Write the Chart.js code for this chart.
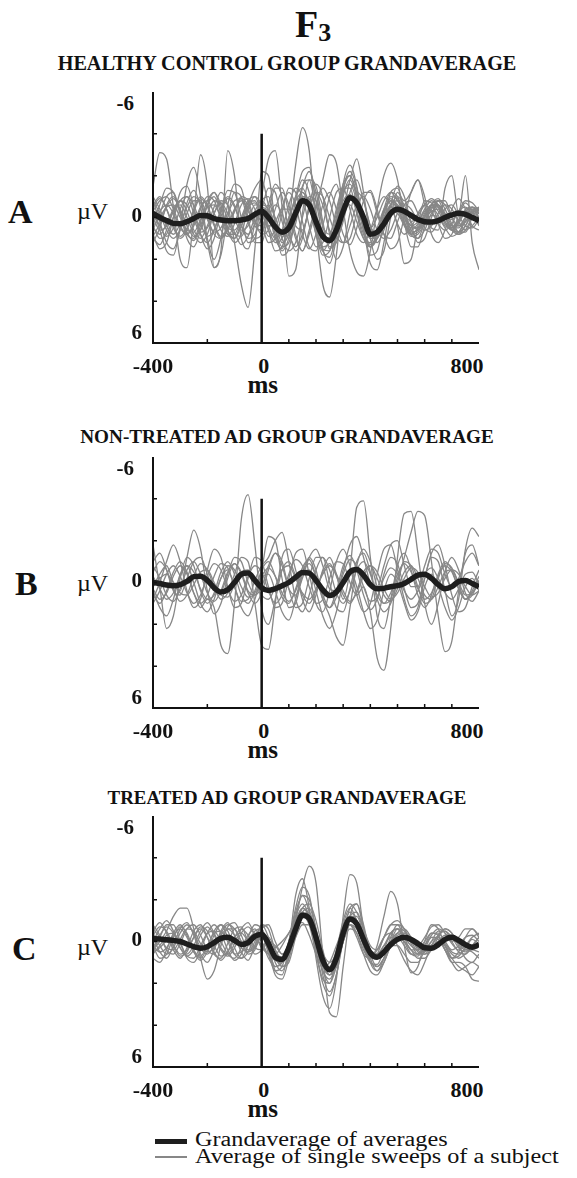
<!DOCTYPE html>
<html>
<head>
<meta charset="utf-8">
<script src="https://cdn.jsdelivr.net/npm/chart.js@4.4.0/dist/chart.umd.min.js"></script>
<style>
  body { margin: 0; width: 577px; height: 1178px; position: relative; overflow: hidden; background: #fff;
         font-family: "Liberation Serif", "Times New Roman", serif; color: #111; }
  .t { position: absolute; white-space: nowrap; line-height: 1; }
  canvas { position: absolute; }
  .key { position: absolute; }
</style>
</head>
<body>
<script>
// sample times (ms)
const times = [-400,-375,-350,-325,-300,-275,-250,-225,-200,-175,-150,-125,-100,-75,-50,-25,
  0,25,50,75,100,125,150,175,200,225,250,275,300,325,350,375,400,425,450,475,
  500,525,550,575,600,625,650,675,700,725,750,775,800];

const yTickLabels = [-6, 0, 6];
const xTickLabels = [-400, 0, 800];
const yTickMarks = [-4, -2, 0, 2, 4];
const xTickMarks = [-200, 100, 200, 300, 400, 500, 600, 700];

// µV, negative up
const healthyGrand = [-0.2,0.0,0.15,0.28, 0.3,0.2,0.05,-0.1, -0.08,0.05,0.12,0.15, 0.15,0.12,0.05,-0.15,
  -0.3,0.0,0.45,0.7, 0.5,-0.2,-0.8,-0.6, 0.2,0.9,1.1,0.6, -0.3,-0.95,-0.7,0.0, 0.8,0.7,0.3,-0.2,
  -0.4,-0.3,-0.1,0.1, 0.2,0.22,0.15,0.0, -0.12,-0.2,-0.15,0.0, 0.15];

const healthySubjects = [
  [-1.5,-3.1,-2.8,-0.5, 2.0,2.4,0.0,-3.0, -1.5,2.4,1.6,-3.2, -2.0,1.0,1.5,0.3, -0.8,-1.0,0.2,1.2, 0.8,-0.8,-1.8,-1.2, 0.4,1.5,1.6,0.2, -1.2,-1.6,-0.8,0.6, 1.4,1.0,-0.2,-1.0, -0.9,0.0,0.7,0.6, -0.1,-0.6,-0.5,0.2, 0.6,0.3,-0.3,-0.4, 0.1],
  [0.5,0.8,0.3,-0.4, -0.8,-0.3,0.6,1.0, 0.4,-0.5,-1.2,-0.6, 1.2,3.2,4.3,1.5, -2.2,-2.0,0.3,1.8, 1.5,0.0,-1.5,-1.8, -0.3,1.5,2.2,1.0, -1.0,-1.8,-1.0,0.5, 1.3,0.8,-0.3,-0.9, -0.5,0.3,0.8,0.5, -0.2,-0.6,-0.3,0.3, 0.6,0.2,-0.4,-0.5, 0.0],
  [-0.3,0.4,0.9,0.5, -0.4,-1.0,-0.6,0.3, 0.9,0.6,-0.3,-0.9, -0.5,0.4,0.8,0.3, -0.5,-0.2,1.0,1.5, 0.2,-2.5,-4.3,-3.2, 0.5,3.2,3.8,1.8, -1.2,-2.2,-1.4,0.4, 1.8,1.6,0.2,-1.2, -1.4,-0.3,0.8,1.0, 0.2,-0.6,-0.8,-0.1, 0.6,0.7,0.1,-0.5, -0.4],
  [0.8,1.5,1.2,0.0, -1.2,-1.5,-0.5,0.8, 1.5,1.0,-0.3,-1.3, -1.2,0.0,1.2,1.0, -1.0,-2.8,-3.2,-0.5, 2.8,2.5,-0.2,-1.8, -1.5,0.2,1.5,0.8, -1.6,-2.5,-1.5,0.5, 2.2,2.5,1.2,-0.6, -1.5,-1.0,0.3,1.2, 1.0,0.0,-0.8,-0.8, 0.0,0.7,0.7,0.0, -0.5],
  [-0.6,-1.0,-0.4,0.5, 1.0,0.6,-0.4,-1.0, -0.6,0.3,0.9,0.6, -0.3,-1.0,-0.8,0.2, 0.8,0.6,-0.4,-1.2, -0.6,0.8,1.6,0.8, -0.4,-1.8,-3.0,-2.6, -0.4,1.6,2.6,2.8, 1.6,-0.4,-2.0,-2.6, -1.8,0.2,1.4,1.4, 0.4,-0.6,-0.9,-0.4, 0.3,0.7,0.4,-0.2, -0.4],
  [1.2,0.5,-0.6,-1.0, -0.3,0.7,1.1,0.4, -0.6,-1.0,-0.2,0.8, 1.0,0.2,-0.7,-0.8, 0.0,0.9,0.6,-0.5, -1.2,-0.6,0.8,1.5, 0.8,-0.6,-1.2,-0.4, 0.8,1.3,0.5,-0.8, -1.3,-0.4,0.8,1.5, 1.2,0.0,-1.2,-1.8, -1.0,0.5,0.6,-1.4, -2.0,-0.2,-2.0,1.2, 2.5],
  [0.3,-0.3,-0.6,-0.2, 0.5,0.8,0.3,-0.5, -0.8,-0.2,0.6,0.9, 0.3,-0.6,-0.9,-0.4, 0.3,1.2,1.0,-0.2, -1.4,-1.2,0.2,1.4, 1.6,0.4,-1.0,-1.6, -0.6,-1.8,-2.8,-1.2, 1.0,2.0,1.6,0.0, -1.2,-0.8,-1.2,-1.8, -0.6,0.8,1.2,0.6, -0.4,-0.9,-0.4,0.4, 0.6],
  [-0.8,0.2,1.2,1.5, 0.6,-0.7,-1.3,-0.5, 1.2,2.4,1.8,0.0, -1.2,-1.0,0.2,1.0, 0.8,-0.6,-1.6,-1.0, 0.6,1.6,1.0,-0.6, -1.6,-1.0,0.8,2.0, 1.4,-0.2,-1.2,-0.8, 0.4,1.2,0.6,-0.4, 0.4,2.2,2.0,0.4, -0.8,-0.7,0.3,1.0, 0.8,-0.1,-0.7,-0.3, 0.4],
  [0.4,0.0,-0.5,-0.6, 0.0,0.6,0.7,0.1, -0.5,-0.6,0.0,0.5, 0.6,0.1,-0.5,-0.7, -0.2,0.6,1.2,1.0, 0.0,-0.8,-1.2,-0.6, 0.6,1.4,1.2,0.2, -0.8,-1.1,-0.5,0.4, 1.0,0.8,0.0,-0.6, -0.6,-0.1,0.4,0.5, 0.1,-0.3,-0.4,0.0, 0.4,0.4,0.0,-0.3, -0.2],
  [-0.5,-0.9,-0.4,0.4, 0.9,0.5,-0.3,-0.9, -0.5,0.4,1.0,0.6, -0.3,-0.9,-0.6,0.2, 0.4,0.0,0.3,0.9, 0.8,-0.3,-1.0,-0.9, 0.0,0.8,1.0,0.4, -0.5,-0.9,-0.6,0.2, 0.7,0.6,0.0,-0.5, -0.5,0.0,0.5,0.5, 0.0,-0.5,-0.5,0.0, 0.5,0.5,0.0,-0.4, -0.3],
  [1.0,1.3,0.6,-0.3, -0.6,0.0,0.8,1.2, 0.8,-0.2,-0.7,-0.2, 0.7,1.3,0.9,0.0, -0.6,-0.4,0.6,1.4, 1.2,0.0,-1.0,-0.8, 0.4,1.6,1.9,0.8, -0.5,-1.0,-0.3,0.8, 1.4,1.0,0.2,-0.3, -0.2,0.4,0.9,0.8, 0.3,-0.1,0.0,0.5, 0.9,0.7,0.2,0.0, 0.3],
  [-1.0,-0.4,0.4,0.8, 0.3,-0.5,-1.0,-0.7, 0.1,0.7,0.5,-0.2, -0.8,-0.9,-0.3,0.2, -0.4,-1.4,-1.2,0.2, 1.0,0.3,-1.4,-2.2, -1.2,0.4,0.8,-0.2, -1.6,-2.0,-1.2,0.0, 0.5,0.0,-0.8,-1.2, -0.8,-0.2,0.2,-0.1, -0.6,-0.9,-0.6,-0.1, 0.1,-0.3,-0.8,-0.7, -0.3],
  [0.0,0.6,0.4,-0.3, -0.8,-0.6,0.1,0.7, 0.5,-0.2,-0.8,-0.6, 0.1,0.6,0.4,-0.3, -0.8,-0.3,0.8,1.6, 1.0,-0.4,-1.2,-0.6, 0.8,1.8,1.6,0.4, -0.6,-0.6,0.2,1.0, 1.2,0.5,-0.4,-0.8, -0.4,0.3,0.6,0.3, -0.3,-0.5,-0.1,0.4, 0.5,0.1,-0.3,-0.2, 0.2],
  [0.6,-0.2,-1.0,-1.2, -0.2,1.0,1.4,0.6, -0.6,-1.2,-0.6,0.6, 1.2,0.8,-0.4,-1.0, -0.6,0.4,1.0,0.6, -0.6,-1.4,-1.0,0.4, 1.4,1.2,0.0,-1.2, -1.4,-0.4,0.8,1.2, 0.6,-0.4,-1.0,-0.6, 0.3,0.8,0.5,-0.2, -0.6,-0.3,0.3,0.6, 0.3,-0.3,-0.5,-0.1, 0.3],
  [-0.4,0.6,1.6,1.8, 0.4,-1.6,-2.4,-1.0, 1.0,2.0,1.0,-0.6, -1.6,-1.4,0.0,1.2, 1.2,-0.2,-1.4,-1.4, -0.2,1.0,1.6,0.6, -0.6,-1.4,-0.8,0.4, 1.2,1.0,-0.2,-1.2, -1.2,-0.2,0.8,1.0, 0.2,-0.6,-0.8,-0.2, 0.5,0.7,0.2,-0.4, -0.6,-0.1,0.4,0.5, 0.1],
  [0.2,-0.6,-1.4,-1.2, -0.2,0.8,1.0,0.2, -0.8,-1.2,-0.4,0.6, 1.0,0.4,-0.6,-1.4, -1.8,-0.6,0.4,0.6, 0.0,-1.0,-2.2,-2.4, -0.8,0.8,1.2,0.0, -1.4,-2.0,-1.0,0.6, 1.4,0.8,-0.4,-1.2, -1.0,-0.2,0.4,0.2, -0.4,-0.8,-0.5,0.2, 0.5,0.2,-0.3,-0.5, -0.2],
  [-0.8,-0.2,0.6,1.0, 0.6,-0.2,-0.8,-0.8, 0.0,0.8,1.0,0.4, -0.4,-0.8,-0.4,0.4, 0.6,0.0,-0.6,-0.2, 0.8,1.4,0.8,-0.4, -1.2,-1.0,0.0,0.9, 1.2,0.4,-0.6,-1.0, -0.4,0.6,1.0,0.6, -0.2,-0.6,-0.4,0.2, 0.6,0.4,-0.2,-0.6, -0.4,0.2,0.6,0.4, 0.0],
  [0.9,0.3,-0.5,-0.9, -0.4,0.4,0.9,0.6, -0.2,-0.8,-0.7,0.1, 0.8,0.9,0.2,-0.6, -0.4,0.6,1.6,1.4, 0.2,-1.0,-1.4,-0.6, 0.8,1.6,1.0,-0.4, -1.4,-1.4,-0.2,1.0, 1.4,0.8,-0.2,-0.8, -0.6,0.2,0.8,0.7, 0.0,-0.6,-0.6,0.0, 0.6,0.8,0.4,-0.2, -0.4],
  [-0.3,-0.8,-1.0,-0.4, 0.4,0.8,0.4,-0.4, -1.0,-0.8,0.0,0.8, 0.8,0.0,-0.8,-1.0, -0.2,0.4,0.2,-0.4, -0.4,0.4,0.6,-0.4, -1.2,-0.6,0.6,1.0, 0.2,-1.2,-1.8,-0.8, 0.4,0.8,0.2,-0.6, -1.0,-0.6,0.2,0.6, 0.2,-0.4,-0.8,-0.6, 0.0,0.4,0.2,-0.3, -0.5],
  [0.4,1.0,0.8,0.0, -0.8,-1.0,-0.2,0.8, 1.2,0.6,-0.4,-1.0, -0.6,0.4,1.0,0.8, 0.0,-0.6,0.0,1.0, 1.6,1.2,0.0,-1.0, -0.8,0.4,1.4,1.2, 0.0,-1.0,-0.8,0.2, 1.0,1.0,0.2,-0.6, -0.8,-0.2,0.6,1.0, 0.6,-0.2,-0.6,-0.2, 0.4,0.8,0.6,0.0, -0.2]
];

const untreatedGrand = [0.0,0.05,0.12,0.15, 0.1,-0.05,-0.28,-0.3, -0.1,0.25,0.46,0.35, 0.0,-0.4,-0.45,-0.1,
  0.25,0.38,0.3,0.15, 0.0,-0.25,-0.48,-0.45, -0.1,0.35,0.62,0.45, 0.0,-0.5,-0.62,-0.35, 0.1,0.3,0.28,0.2,
  0.15,0.05,-0.15,-0.35, -0.4,-0.2,0.1,0.3, 0.2,-0.05,-0.1,0.05, 0.2];

const untreatedSubjects = [
  [0.3,0.8,0.5,-0.3, -0.8,-0.4,0.5,1.2, 0.8,1.2,3.0,3.4, 1.0,-3.0,-4.2,-1.8, 1.2,2.0,0.8,-0.6, -1.0,-0.3,0.6,1.0, 0.4,-0.5,-0.9,-0.3, 0.6,1.0,0.4,-0.5, -0.8,-0.2,0.6,0.9, 0.3,-0.5,-0.8,-0.2, 0.6,0.8,0.2,-0.5, -0.6,0.0,0.6,0.5, -0.1],
  [-0.5,-1.0,-0.6,0.3, 0.9,0.6,-0.3,-0.9, -0.6,0.2,0.8,0.5, -0.4,-1.2,-1.0,1.0, 3.0,3.2,1.0,-1.2, -1.6,-0.6,0.8,1.4, 0.6,-0.6,-1.2,-0.4, 0.8,-0.6,-3.6,-3.9, -1.2,1.6,2.2,0.8, -0.8,-1.4,-0.6,0.6, 1.2,0.6,-0.4,-1.0, -0.6,0.3,0.8,0.4, -0.3],
  [1.0,0.4,-0.4,-0.8, -0.3,0.5,1.0,0.6, -0.3,-0.9,-0.6,0.3, 0.9,0.6,-0.3,-0.8, -0.5,0.4,1.0,0.6, -0.4,-1.1,-0.8,0.2, 1.0,0.8,-0.2,-1.0, -0.9,0.0,0.6,0.2, 1.4,3.6,4.2,2.2, -1.2,-3.3,-3.4,-1.4, 1.0,2.0,1.0,-0.5, -1.2,-0.6,0.5,0.9, 0.4],
  [-0.8,-0.2,0.6,0.9, 0.3,-0.6,-1.0,-0.4, 0.5,0.9,0.4,-0.5, -0.9,-0.4,0.5,1.0, 0.5,-0.6,-1.4,-1.0, 0.3,1.2,1.0,-0.2, -1.2,-1.2,0.0,1.2, 1.4,0.3,-1.0,-1.4, -0.5,0.8,1.4,1.0, 0.0,-1.2,-2.4,-3.4, -3.2,-1.0,1.6,3.3, 2.8,0.4,-1.4,-1.8, -0.8],
  [0.2,-0.4,-0.8,0.0, 0.4,-1.2,-2.5,-1.6, 0.4,1.5,1.0,-0.2, -0.9,-0.5,0.4,0.6, -0.6,-2.2,-2.0,-0.2, 1.2,1.0,-0.4,-1.2, -0.6,0.8,1.6,2.6, 3.0,1.2,-0.8,-1.6, -1.0,0.2,1.0,0.8, -0.2,-1.0,-0.8,0.2, 1.0,0.8,-0.2,-0.9, -0.7,0.1,0.8,0.6, -0.1],
  [-1.8,0.2,2.2,1.6, -0.2,-1.2,-0.8,0.4, 1.0,0.5,-0.5,-1.0, -0.4,0.6,1.0,0.4, -0.6,-1.0,-0.3,0.7, 1.0,0.3,-0.7,-1.1, -0.3,0.8,1.2,0.4, -0.8,-1.3,-0.6,0.6, 1.3,0.8,-0.4,-1.2, -0.9,0.3,1.2,1.0, -0.2,-1.2,-1.0,0.4, 1.6,0.8,-1.6,-2.6, -2.2],
  [0.6,1.0,0.4,-0.5, -1.0,-0.5,0.5,1.0, 0.6,-0.3,-0.9,-0.7, 0.2,0.9,0.8,-0.1, -0.8,-1.2,-2.0,-2.4, -1.0,0.8,1.4,0.6, -0.6,-1.2,-0.6,0.5, 1.0,0.4,-0.6,-1.0, -0.4,0.6,1.0,0.5, -0.4,-0.9,-0.5,0.3, 0.8,0.5,-0.3,-0.8, -0.5,0.3,0.8,0.5, 0.0],
  [-0.3,0.3,0.8,0.5, -0.3,-0.8,-0.5,0.3, 0.8,0.6,-0.2,-0.8, -0.6,0.2,0.7,0.5, -0.3,-0.7,-0.3,0.5, 0.9,0.4,-0.5,-0.9, -0.3,0.6,1.2,0.7, -0.4,-1.1,-0.8,0.2, 0.9,0.7,-0.2,-0.7, -0.4,0.4,0.8,0.4, -0.4,-0.7,-0.2,0.5, 0.8,0.3,-0.4,-0.5, 0.1],
  [0.8,0.0,-1.0,-1.8, -1.0,0.4,1.2,0.8, -0.6,-1.6,-1.2,0.2, 1.2,1.0,-0.2,-1.2, -1.0,0.2,1.2,1.0, -0.2,-1.4,-1.6,-0.4, 1.0,1.4,0.4,-1.0, -1.6,-0.8,0.6,1.4, 1.0,-0.4,-1.6,-1.8, -0.6,0.8,1.6,1.2, -0.2,-1.4,-1.8,-0.8, 0.6,1.4,1.2,0.2, -0.6],
  [0.4,1.2,1.6,0.8, -0.4,-0.8,0.0,1.0, 1.4,0.8,-0.2,-0.6, 0.2,1.2,1.6,0.8, -0.2,-0.4,0.4,1.4, 1.8,0.8,-0.4,-0.6, 0.4,1.6,2.2,1.4, 0.0,-0.6,0.2,1.4, 2.2,1.8,0.4,-0.4, 0.0,1.0,1.8,1.4, 0.2,-0.4,0.2,1.2, 1.8,1.2,0.2,-0.2, 0.4],
  [-1.0,-1.4,-0.6,0.4, 0.6,-0.2,-1.0,-1.2, -0.4,0.4,0.4,-0.4, -1.2,-1.0,0.0,0.6, 0.2,-0.8,-1.4,-0.8, 0.3,0.6,-0.2,-1.2, -1.6,-0.8,0.3,0.4, -0.6,-1.8,-2.2,-1.2, 0.0,0.2,-0.8,-1.8, -2.0,-0.8,0.2,0.2, -0.8,-1.6,-1.4,-0.4, 0.2,-0.2,-1.0,-1.4, -0.8],
  [0.2,-0.2,-0.4,0.0, 0.5,0.6,0.1,-0.5, -0.6,0.0,0.6,0.7, 0.1,-0.5,-0.6,0.0, 0.6,0.8,0.2,-0.6, -0.8,-0.2,0.5,0.8, 0.3,-0.4,-0.8,-0.4, 0.4,0.9,0.5,-0.3, -0.8,-0.5,0.3,0.8, 0.5,-0.2,-0.7,-0.5, 0.2,0.7,0.5,-0.2, -0.6,-0.4,0.2,0.6, 0.4]
];

const treatedGrand = [-0.13,-0.12,-0.08,-0.05, 0.0,0.12,0.25,0.32, 0.25,0.05,-0.15,-0.2, -0.05,0.14,0.05,-0.25,
  -0.35,0.1,0.75,0.85, 0.3,-0.6,-1.25,-1.1, -0.2,0.9,1.35,0.8, -0.4,-1.08,-0.85,-0.1, 0.55,0.75,0.5,0.15,
  -0.1,-0.2,-0.1,0.1, 0.3,0.32,0.15,-0.1, -0.2,-0.05,0.15,0.27, 0.15];

const treatedSubjects = [
  [0.3,-0.3,-0.7,-0.4, 0.3,0.7,0.4,-0.3, -0.7,-0.3,0.4,0.7, 0.3,-0.4,-0.7,-0.3, 0.3,0.6,0.9,1.0, 0.4,-1.0,-2.6,-3.6, -2.8,0.6,3.4,3.6, 1.2,-1.2,-1.8,-0.8, 0.6,1.2,0.8,0.0, -0.6,-0.5,0.0,0.5, 0.6,0.2,-0.3,-0.5, -0.2,0.3,0.5,0.2, -0.2],
  [-0.5,-0.9,-0.4,0.4, 0.8,0.3,-0.5,-0.8, -0.2,0.6,0.8,0.1, -0.6,-0.7,0.0,0.3, -0.4,0.2,1.4,1.6, 0.2,-2.2,-3.0,-1.6, 0.8,2.6,3.2,1.8, -1.2,-3.2,-2.8,-0.6, 1.0,1.4,0.8,-0.2, -0.8,-0.6,0.1,0.6, 0.5,0.0,-0.5,-0.5, 0.0,0.5,0.6,0.2, -0.2],
  [0.8,1.0,0.4,-0.4, -0.8,-0.3,0.5,0.9, 0.5,-0.3,-0.8,-0.5, 0.3,0.8,0.5,-0.3, -0.6,0.4,1.2,1.0, 0.0,-1.2,-1.8,-1.2, 0.2,1.4,1.8,1.0, -0.6,-1.4,-1.0,0.2, 0.8,0.2,-1.2,-2.4, -1.8,0.2,1.5,1.2, 0.0,-0.8,-0.6,0.2, 0.8,0.5,-0.2,-0.6, -0.3],
  [-0.2,0.5,0.8,0.2, -0.6,-0.9,-0.3,0.6, 1.0,0.4,-0.5,-0.9, -0.3,0.5,0.9,0.2, -0.8,-0.2,1.0,1.4, 0.6,-0.8,-1.6,-1.2, 0.0,1.2,1.6,0.8, -0.6,-1.2,-0.8,0.2, 1.0,1.1,0.4,-0.4, -0.6,0.0,0.6,0.7, 0.2,-0.4,-0.3,0.4, 1.0,1.0,1.2,1.8, 1.9],
  [0.4,0.0,-0.5,-1.2, -1.6,-1.6,-0.6,0.8, 1.8,1.4,0.2,-0.6, -0.6,0.0,0.6,0.4, -0.4,0.0,0.8,1.0, 0.2,-1.0,-1.6,-1.2, -0.2,1.0,1.6,1.0, -0.4,-1.2,-1.0,-0.2, 0.6,0.8,0.4,0.0, -0.3,-0.4,-0.2,0.2, 0.4,0.3,0.0,-0.3, -0.3,0.0,0.3,0.3, 0.1],
  [0.0,-0.6,-1.0,-0.5, 0.3,0.6,0.2,-0.5, -0.9,-0.4,0.3,0.6, 0.1,-0.6,-0.9,-0.3, 0.2,0.6,0.3,0.0, -0.4,-1.0,-1.4,-1.0, -0.2,0.6,1.0,0.6, -0.4,-1.2,-1.2,-0.4, 0.4,0.6,0.2,-0.4, -0.6,-0.2,0.2,0.4, 0.2,-0.3,-0.6,-0.4, 0.1,0.4,0.2,-0.2, -0.4],
  [0.6,0.2,-0.3,-0.4, 0.1,0.7,0.8,0.2, -0.4,-0.5,0.0,0.6, 0.8,0.3,-0.3,-0.6, 0.0,0.8,1.2,1.0, 0.5,-0.2,-0.8,-0.8, 0.2,1.4,2.0,1.2, 0.0,-0.6,-0.4,0.4, 1.0,1.2,0.8,0.2, -0.2,0.0,0.4,0.8, 0.8,0.4,0.0,0.2, 0.6,0.8,0.6,0.4, 0.5],
  [-0.8,-0.3,0.4,0.6, 0.1,-0.6,-0.8,-0.3, 0.4,0.6,0.0,-0.7, -0.9,-0.3,0.4,0.2, -0.6,-0.8,0.0,0.6, 0.2,-1.2,-2.2,-2.0, -0.6,0.8,1.2,0.4, -1.0,-1.8,-1.4,-0.6, 0.2,0.4,-0.2,-0.8, -1.0,-0.6,0.0,0.2, -0.2,-0.7,-0.8,-0.4, 0.0,-0.2,-0.6,-0.6, -0.2],
  [0.2,0.8,0.6,-0.2, -0.7,-0.4,0.4,0.8, 0.3,-0.5,-0.8,-0.2, 0.6,0.8,0.2,-0.5, -0.6,0.4,1.6,1.8, 0.8,-0.6,-1.2,-0.8, 0.6,2.0,2.6,1.6, 0.0,-0.8,-0.4,0.6, 1.4,1.6,1.0,0.2, -0.2,0.0,0.4,0.6, 0.4,0.0,-0.2,0.1, 0.5,0.6,0.3,-0.1, 0.1],
  [-0.3,-0.7,-0.5,0.2, 0.7,0.5,-0.2,-0.7, -0.5,0.2,0.7,0.5, -0.2,-0.6,-0.3,0.3, 0.4,0.0,0.2,0.6, 0.2,-0.8,-1.6,-1.8, -1.0,0.4,1.4,1.2, 0.0,-1.2,-1.4,-0.6, 0.4,0.8,0.6,0.0, -0.4,-0.4,-0.1,0.3, 0.5,0.2,-0.3,-0.6, -0.4,0.1,0.4,0.2, -0.2],
  [0.5,0.3,0.0,0.2, 0.6,0.4,-0.2,-0.6, -0.2,0.5,0.9,0.5, -0.2,-0.4,0.0,0.6, 0.4,-0.2,0.4,1.2, 1.0,-0.2,-1.2,-1.4, -0.4,0.8,1.4,1.0, -0.2,-1.0,-0.8,0.0, 0.6,0.6,0.2,-0.2, -0.2,0.2,0.6,0.6, 0.2,-0.2,-0.1,0.4, 0.8,0.7,0.4,0.5, 0.8],
  [-0.6,-0.2,0.3,0.4, -0.1,-0.6,-0.5,0.1, 0.5,0.3,-0.3,-0.6, -0.3,0.3,0.5,0.0, -0.8,-0.6,0.4,0.8, 0.0,-1.4,-2.2,-1.4, 0.4,1.8,2.0,0.8, -0.8,-1.6,-1.0,0.2, 0.8,0.6,-0.2,-0.8, -0.8,-0.2,0.4,0.4, 0.0,-0.4,-0.4,0.0, 0.4,0.2,-0.2,-0.3, 0.0],
  [0.2,0.5,0.3,-0.3, -0.6,-0.2,0.5,0.7, 0.2,-0.4,-0.5,0.0, 0.6,0.5,-0.1,-0.4, 0.0,0.6,0.6,0.2, -0.4,-0.9,-0.9,-0.3, 0.6,1.2,1.0,0.2, -0.6,-0.8,-0.2,0.6, 0.8,0.4,-0.2,-0.4, 0.2,0.9,1.4,1.6, 1.0,0.2,-0.2,0.2, 0.8,1.2,1.4,1.6, 1.2],
  [0.4,-0.2,-0.8,-0.8, 0.0,0.8,1.0,0.4, -0.4,-0.8,-0.4,0.4, 0.9,0.6,-0.2,-0.8, -0.6,0.6,1.4,1.2, 0.0,-1.6,-2.6,-2.2, -0.4,1.6,2.4,1.6, -0.2,-1.6,-1.8,-0.6, 0.8,1.4,1.0,0.2, -0.4,-0.6,-0.2,0.4, 0.6,0.4,-0.2,-0.6, -0.4,0.2,0.8,1.0, 0.6],
  [-0.4,0.2,0.6,0.3, -0.4,-0.8,-0.4,0.3, 0.6,0.2,-0.4,-0.8, -0.6,0.0,0.5,0.3, -0.2,0.2,0.8,1.2, 0.8,-0.4,-1.4,-1.6, -0.6,0.8,1.6,1.2, 0.0,-0.8,-0.6,0.0, 0.4,0.6,0.4,0.2, 0.2,0.6,1.0,1.0, 0.4,-0.2,-0.2,0.4, 1.0,1.4,1.2,1.0, 1.2]
];

// page layout of the three panels (pixels)
const panels = [
  { title: "HEALTHY CONTROL GROUP GRANDAVERAGE", titleSize: 20.2, titleBase: 70, letter: "A", letterX: 8, letterBase: 223, unitBase: 219,
    top: 92, bottom: 343, grand: healthyGrand, subjects: healthySubjects },
  { title: "NON-TREATED AD GROUP GRANDAVERAGE", titleSize: 19.2, titleBase: 443, letter: "B", letterX: 15, letterBase: 595, unitBase: 591,
    top: 457, bottom: 708, grand: untreatedGrand, subjects: untreatedSubjects },
  { title: "TREATED AD GROUP GRANDAVERAGE", titleSize: 18.9, titleBase: 805, letter: "C", letterX: 12, letterBase: 960, unitBase: 955,
    top: 816, bottom: 1067, grand: treatedGrand, subjects: treatedSubjects }
];

const plotLeft = 153, plotRight = 479, canvasLeft = 140, canvasWidth = 350;

function addText(html, x, base, size, opts) {
  opts = opts || {};
  const d = document.createElement("div");
  d.className = "t";
  d.innerHTML = html;
  d.style.fontSize = size + "px";
  d.style.top = (base - 0.8375 * size) + "px";
  d.style.fontWeight = opts.weight || "bold";
  let tf = "";
  if (opts.align === "center") { d.style.left = x + "px"; tf = "translateX(-50%)"; }
  else if (opts.align === "right") { d.style.right = (577 - x) + "px"; }
  else { d.style.left = x + "px"; }
  if (opts.scaleX) { tf += " scaleX(" + opts.scaleX + ")"; d.style.transformOrigin = "left center"; }
  if (tf) d.style.transform = tf;
  document.body.appendChild(d);
  return d;
}

// axis lines and inward tick marks, placed by the chart scales
const eegAxes = {
  id: "eegAxes",
  afterDraw(chart) {
    const { ctx, scales: { x, y } } = chart;
    const x0 = x.getPixelForValue(-400), x1 = x.getPixelForValue(800);
    const yTop = y.getPixelForValue(-6), yBot = y.getPixelForValue(6);
    ctx.save();
    ctx.strokeStyle = "#111";
    ctx.lineWidth = 2;
    ctx.beginPath();
    ctx.moveTo(x0, yTop);
    ctx.lineTo(x0, yBot);
    ctx.lineTo(x1, yBot);
    ctx.stroke();
    ctx.lineWidth = 1.5;
    ctx.beginPath();
    yTickMarks.forEach(v => {
      const py = y.getPixelForValue(v);
      ctx.moveTo(x0, py); ctx.lineTo(x0 + 4, py);
    });
    xTickMarks.forEach(v => {
      const px = x.getPixelForValue(v);
      ctx.moveTo(px, yBot); ctx.lineTo(px, yBot - 4);
    });
    ctx.stroke();
    ctx.restore();
  }
};

function toPoints(values) {
  return values.map((v, i) => ({ x: times[i], y: v }));
}

addText('F<span style="font-size:26px;position:relative;top:4px">3</span>', 295, 37, 38);

panels.forEach(p => {
  addText(p.title, 287, p.titleBase, p.titleSize, { align: "center" });
  addText(p.letter, p.letterX, p.letterBase, 34);
  addText("&micro;V", 77, p.unitBase, 24, { weight: "normal" });

  const canvas = document.createElement("canvas");
  const h = p.bottom - p.top + 20;
  canvas.width = canvasWidth; canvas.height = h;
  canvas.style.width = canvasWidth + "px"; canvas.style.height = h + "px";
  canvas.style.left = canvasLeft + "px"; canvas.style.top = (p.top - 10) + "px";
  document.body.appendChild(canvas);

  // lower order draws on top: grand average over stimulus line over subjects
  const datasets = [
    { data: toPoints(p.grand), borderColor: "#1e1e1e", borderWidth: 5.5, pointRadius: 0,
      cubicInterpolationMode: "monotone", order: 0 },
    { data: [{ x: 0, y: -4 }, { x: 0, y: 6 }], borderColor: "#111", borderWidth: 2.5, pointRadius: 0, order: 1 }
  ];
  p.subjects.forEach(s => datasets.push({
    data: toPoints(s), borderColor: "#878787", borderWidth: 1.3, pointRadius: 0,
    cubicInterpolationMode: "monotone", order: 2
  }));

  const chart = new Chart(canvas, {
    type: "line",
    data: { datasets },
    options: {
      responsive: false,
      animation: false,
      devicePixelRatio: 1,
      events: [],
      layout: { padding: { left: plotLeft - canvasLeft, right: canvasLeft + canvasWidth - plotRight, top: 10, bottom: 10 } },
      scales: {
        x: { type: "linear", min: -400, max: 800, display: false },
        y: { min: -6, max: 6, reverse: true, display: false }
      },
      plugins: { legend: { display: false }, tooltip: { enabled: false } }
    },
    plugins: [eegAxes]
  });

  // tick labels at the scale positions
  const xs = chart.scales.x, ys = chart.scales.y;
  const oy = p.top - 10;
  yTickLabels.forEach(v => {
    const py = oy + ys.getPixelForValue(v);
    let base = py + 5, right = 142;
    if (v === -6) { base = py + 19; right = 134; }
    if (v === 6) { base = py - 3; }
    addText(String(v), right, base, 21, { align: "right" });
  });
  xTickLabels.forEach(v => {
    const px = canvasLeft + xs.getPixelForValue(v);
    const base = oy + ys.getPixelForValue(6) + 30;
    let cx = px;
    if (v === 0) cx = px + 2;
    if (v === 800) cx = px - 12;
    addText(String(v), cx, base, 22, { align: "center" });
  });
  addText("ms", canvasLeft + xs.getPixelForValue(0) + 1, oy + ys.getPixelForValue(6) + 50, 25, { align: "center" });
});

// key
const keyThick = document.createElement("div");
keyThick.className = "key";
Object.assign(keyThick.style, { left: "155px", top: "1139px", width: "32px", height: "5px", background: "#1e1e1e" });
document.body.appendChild(keyThick);
const keyThin = document.createElement("div");
keyThin.className = "key";
Object.assign(keyThin.style, { left: "155px", top: "1156px", width: "32px", height: "2px", background: "#878787" });
document.body.appendChild(keyThin);
addText("Grandaverage of averages", 195, 1146, 20, { weight: "normal", scaleX: 1.21 });
addText("Average of single sweeps of a subject", 195, 1163, 20, { weight: "normal", scaleX: 1.21 });
</script>
</body>
</html>
